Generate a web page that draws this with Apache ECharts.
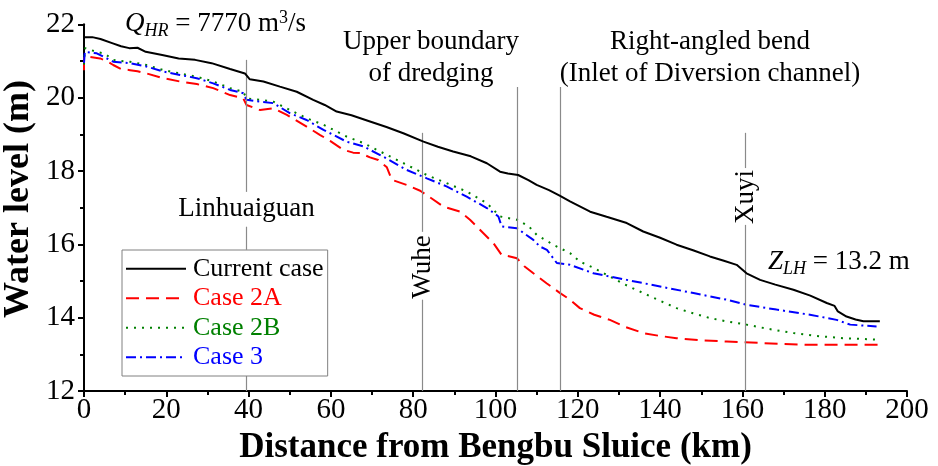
<!DOCTYPE html>
<html>
<head>
<meta charset="utf-8">
<script src="https://cdn.jsdelivr.net/npm/echarts@6/dist/echarts.min.js"></script>
<style>html,body{margin:0;padding:0;background:#fff}#c{width:938px;height:466px}</style>
</head>
<body>
<div id="c"></div>
<script>
// ---- data (distance km, water level m) ----
var currentX = [0, 2, 4, 7, 9, 11, 13, 15, 19, 23, 27, 31, 35.5, 39.1, 40.3, 43.6, 47.6, 51.7, 55.7, 58.5, 61.4, 65, 69.5, 73.5, 77.6, 82.5, 86, 89.7, 94, 97.9, 101.1, 103, 105.5, 108, 110, 113, 115.7, 118.1, 123, 127, 131.9, 135.9, 140, 144, 148, 152.1, 155.5, 158.6, 161, 164.3, 168, 172.4, 176.5, 180.5, 182.4, 183.2, 185.3, 187.5, 189.4, 193.4];
var currentY = [21.65, 21.65, 21.6, 21.48, 21.4, 21.35, 21.36, 21.25, 21.16, 21.07, 21.03, 20.94, 20.78, 20.66, 20.50, 20.44, 20.30, 20.16, 19.94, 19.80, 19.62, 19.52, 19.35, 19.2, 19.03, 18.80, 18.66, 18.53, 18.40, 18.21, 17.98, 17.93, 17.89, 17.75, 17.62, 17.48, 17.32, 17.17, 16.89, 16.75, 16.58, 16.35, 16.18, 15.99, 15.84, 15.67, 15.55, 15.44, 15.21, 15.03, 14.9, 14.76, 14.6, 14.40, 14.32, 14.17, 14.03, 13.95, 13.90, 13.90];

var case2AX = [0, 0, 0.6, 3.9, 5.5, 7.1, 9, 11.2, 13, 15.2, 19.3, 23.3, 27.4, 31.4, 35.5, 38.7, 39.5, 42.8, 46, 49.3, 54.1, 57.4, 59.8, 63, 65.4, 67.1, 69.5, 71.5, 73.6, 74.8, 78.4, 81.7, 84.5, 87.3, 91.4, 93.8, 97, 99.5, 101.5, 103, 105.2, 107, 109.2, 110.5, 112.4, 115.7, 118.1, 120.5, 124, 127.8, 131.5, 135.9, 140, 144, 150, 156.2, 164.3, 170, 176.4, 185, 193.4];
var case2AY = [20.75, 21.12, 21.12, 21.07, 21.0, 20.89, 20.78, 20.75, 20.72, 20.66, 20.53, 20.44, 20.37, 20.26, 20.07, 19.98, 19.80, 19.66, 19.71, 19.53, 19.21, 18.98, 18.82, 18.58, 18.5, 18.49, 18.37, 18.3, 18.10, 17.76, 17.62, 17.46, 17.25, 17.03, 16.89, 16.67, 16.31, 16.03, 15.71, 15.68, 15.62, 15.4, 15.21, 15.1, 14.94, 14.67, 14.49, 14.26, 14.08, 13.94, 13.75, 13.58, 13.5, 13.44, 13.38, 13.35, 13.31, 13.28, 13.26, 13.26, 13.26];

var case2BX = [0, 0.2, 3.1, 5, 7.1, 9, 11.2, 15.2, 19.3, 23.3, 27.4, 31.4, 35.5, 38.7, 39.5, 42.8, 46, 50.1, 54.1, 58.2, 63.8, 67.9, 72.7, 78.4, 83.3, 88.1, 93, 97.9, 101.1, 105.2, 108, 110, 114, 118.1, 120.5, 124, 127.8, 131.5, 135.9, 140, 144, 148, 152.1, 156, 161, 166, 172.4, 178, 184.5, 193.4];
var case2BY = [20.9, 21.35, 21.25, 21.2, 21.03, 21.0, 20.98, 20.89, 20.75, 20.66, 20.57, 20.44, 20.26, 20.16, 19.98, 19.94, 19.89, 19.66, 19.44, 19.26, 18.94, 18.76, 18.49, 18.17, 17.89, 17.67, 17.44, 17.12, 16.76, 16.67, 16.5, 16.26, 15.99, 15.76, 15.53, 15.35, 15.12, 14.9, 14.67, 14.46, 14.26, 14.12, 13.99, 13.9, 13.81, 13.7, 13.58, 13.5, 13.44, 13.40];

var case3X = [0, 0.2, 3.1, 7.1, 11.2, 15.2, 19.3, 23.3, 27.4, 31.4, 35.5, 38.7, 39.5, 42.8, 46, 50.1, 54.1, 58.2, 63.8, 67.9, 72.7, 78.4, 83.3, 88.1, 93, 97.9, 100.7, 101.5, 105.2, 109.2, 110.8, 112.5, 114.9, 118.1, 123.8, 131.9, 140, 148.1, 156.2, 161, 168.3, 176.4, 182.9, 186.2, 192.6];
var case3Y = [20.95, 21.25, 21.21, 20.98, 20.94, 20.85, 20.71, 20.62, 20.53, 20.39, 20.21, 20.12, 19.94, 19.89, 19.85, 19.57, 19.39, 19.12, 18.80, 18.67, 18.39, 18.03, 17.80, 17.58, 17.30, 16.99, 16.76, 16.49, 16.44, 16.12, 15.94, 15.85, 15.49, 15.44, 15.21, 15.03, 14.85, 14.67, 14.49, 14.35, 14.22, 14.08, 13.94, 13.81, 13.76];

var seriesNames = ['Current case', 'Case 2A', 'Case 2B', 'Case 3'];

// station markers: [distance, segments of water-level ranges]
var stationX = [39.5, 82.3, 105.3, 115.8, 160.7];
var stationSegs = [
  [[21.03, 17.43], [16.48, 15.85], [12.42, 12]],
  [[19.04, 16.34], [14.49, 12]],
  [[20.29, 12]],
  [[20.29, 12]],
  [[19.04, 18.08], [16.53, 12]]
];

function pairs(xs, ys) { return xs.map(function (x, i) { return [x, ys[i]]; }); }

var FONT = 'Liberation Serif';
var markData = [];
stationX.forEach(function (x, i) {
  stationSegs[i].forEach(function (s) {
    markData.push([{ coord: [x, s[0]] }, { coord: [x, s[1]] }]);
  });
});

var chart = echarts.init(document.getElementById('c'), null, { renderer: 'canvas' });
var option = {
  backgroundColor: '#fff',
  animation: false,
  grid: { left: 84, right: 31, top: 24.3, bottom: 75, containLabel: false, outerBoundsMode: 'none' },
  xAxis: {
    type: 'value', min: 0, max: 200, interval: 20,
    name: 'Distance from Bengbu Sluice (km)', nameLocation: 'middle', nameGap: 39,
    nameTextStyle: { fontFamily: FONT, fontWeight: 'bold', fontSize: 35, color: '#000' },
    axisLine: { show: true, onZero: false, lineStyle: { color: '#000', width: 2 } },
    axisTick: { show: true, inside: false, length: 6, lineStyle: { color: '#000', width: 2 } },
    minorTick: { show: true, splitNumber: 2, length: 4, lineStyle: { color: '#000', width: 2 } },
    axisLabel: { fontFamily: FONT, fontSize: 29, color: '#000', margin: 5 },
    splitLine: { show: false }
  },
  yAxis: {
    type: 'value', min: 12, max: 22, interval: 2,
    axisLine: { show: true, onZero: false, lineStyle: { color: '#000', width: 2 } },
    axisTick: { show: true, inside: false, length: 6, lineStyle: { color: '#000', width: 2 } },
    minorTick: { show: true, splitNumber: 2, length: 4, lineStyle: { color: '#000', width: 2 } },
    axisLabel: { fontFamily: FONT, fontSize: 29, color: '#000', margin: 9 },
    splitLine: { show: false }
  },
  legend: {
    orient: 'vertical', left: 122, top: 250, z: 20,
    backgroundColor: '#fff', borderColor: '#808080', borderWidth: 1,
    padding: [4, 4, 4, 3], itemGap: 0, itemWidth: 60, itemHeight: 14,
    itemStyle: { opacity: 0 },
    textStyle: { fontFamily: FONT, fontSize: 26, lineHeight: 29.5, padding: [0, 0, 0, 2] },
    data: [
      { name: 'Current case', textStyle: { color: '#000' } },
      { name: 'Case 2A', textStyle: { color: '#ff0000' } },
      { name: 'Case 2B', textStyle: { color: '#008000' } },
      { name: 'Case 3', textStyle: { color: '#0000ff' } }
    ]
  },
  series: [
    {
      name: seriesNames[0], type: 'line', data: pairs(currentX, currentY), showSymbol: false, symbol: 'none',
      lineStyle: { color: '#000', width: 2 }, itemStyle: { color: '#000' }, z: 5,
      markLine: {
        silent: true, symbol: ['none', 'none'], label: { show: false },
        lineStyle: { color: '#8a8a8a', width: 1.2, type: 'solid' },
        data: markData
      }
    },
    {
      name: seriesNames[1], type: 'line', data: pairs(case2AX, case2AY), showSymbol: false, symbol: 'none',
      lineStyle: { color: '#ff0000', width: 2, type: [13, 7] }, itemStyle: { color: '#ff0000' }, z: 4
    },
    {
      name: seriesNames[2], type: 'line', data: pairs(case2BX, case2BY), showSymbol: false, symbol: 'none',
      lineStyle: { color: '#008000', width: 2, type: [2, 6] }, itemStyle: { color: '#008000' }, z: 4
    },
    {
      name: seriesNames[3], type: 'line', data: pairs(case3X, case3Y), showSymbol: false, symbol: 'none',
      lineStyle: { color: '#0000ff', width: 2, type: [10, 4, 2, 4] }, itemStyle: { color: '#0000ff' }, z: 4
    }
  ],
  graphic: [
    { type: 'text', x: 19, y: 199, rotation: Math.PI / 2, z: 10, style: {
        text: 'Water level (m)', fontFamily: FONT, fontWeight: 'bold', fontSize: 36, fill: '#000',
        align: 'center', verticalAlign: 'middle', textAlign: 'center', textVerticalAlign: 'middle' } },
    { type: 'text', x: 125, y: 24, z: 10, style: {
        text: '{q|Q}{s|HR} = 7770 m{p|3}/s', fontFamily: FONT, fontSize: 27, fill: '#000',
        align: 'left', verticalAlign: 'middle', textAlign: 'left', textVerticalAlign: 'middle',
        rich: {
          q: { fontFamily: FONT, fontSize: 27, fontStyle: 'italic' },
          s: { fontFamily: FONT, fontSize: 18, fontStyle: 'italic', padding: [14, 0, 0, 0] },
          p: { fontFamily: FONT, fontSize: 18, padding: [0, 0, 12, 0] }
        } } },
    { type: 'text', x: 431, y: 58, z: 10, style: {
        text: 'Upper boundary\nof dredging', fontFamily: FONT, fontSize: 27, lineHeight: 32, fill: '#000',
        align: 'center', verticalAlign: 'middle', textAlign: 'center', textVerticalAlign: 'middle' } },
    { type: 'text', x: 710, y: 58, z: 10, style: {
        text: 'Right-angled bend\n(Inlet of Diversion channel)', fontFamily: FONT, fontSize: 27, lineHeight: 32, fill: '#000',
        align: 'center', verticalAlign: 'middle', textAlign: 'center', textVerticalAlign: 'middle' } },
    { type: 'text', x: 246.5, y: 209, z: 10, style: {
        text: 'Linhuaiguan', fontFamily: FONT, fontSize: 27, fill: '#000',
        align: 'center', verticalAlign: 'middle', textAlign: 'center', textVerticalAlign: 'middle' } },
    { type: 'text', x: 423, y: 267, rotation: Math.PI / 2, z: 10, style: {
        text: 'Wuhe', fontFamily: FONT, fontSize: 27, fill: '#000',
        align: 'center', verticalAlign: 'middle', textAlign: 'center', textVerticalAlign: 'middle' } },
    { type: 'text', x: 746, y: 197, rotation: Math.PI / 2, z: 10, style: {
        text: 'Xuyi', fontFamily: FONT, fontSize: 27, fill: '#000',
        align: 'center', verticalAlign: 'middle', textAlign: 'center', textVerticalAlign: 'middle' } },
    { type: 'text', x: 768, y: 262, z: 10, style: {
        text: '{z|Z}{s|LH} = 13.2 m', fontFamily: FONT, fontSize: 27, fill: '#000',
        align: 'left', verticalAlign: 'middle', textAlign: 'left', textVerticalAlign: 'middle',
        rich: {
          z: { fontFamily: FONT, fontSize: 27, fontStyle: 'italic' },
          s: { fontFamily: FONT, fontSize: 18, fontStyle: 'italic', padding: [14, 0, 0, 0] }
        } } }
  ]
};
chart.setOption(option);
</script>
</body>
</html>
